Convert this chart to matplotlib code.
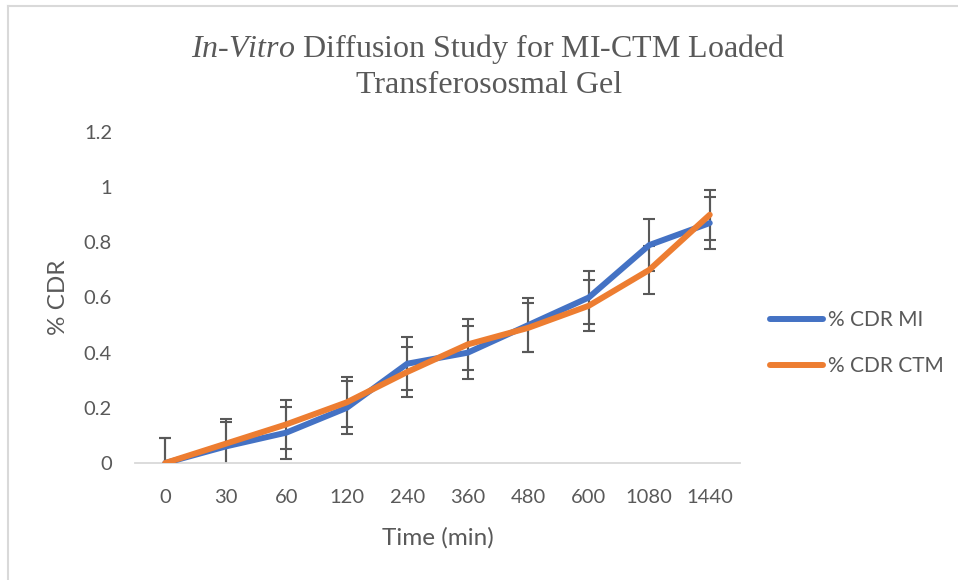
import matplotlib
matplotlib.use('Agg')
import matplotlib.pyplot as plt
import numpy as np

# data
time_labels = ['0', '30', '60', '120', '240', '360', '480', '600', '1080', '1440']
cdr_mi = [0.0, 0.06, 0.11, 0.20, 0.36, 0.40, 0.50, 0.60, 0.79, 0.87]
cdr_ctm = [0.0, 0.07, 0.14, 0.22, 0.33, 0.43, 0.49, 0.57, 0.70, 0.90]
err_mi = [0.09, 0.09, 0.094, 0.096, 0.095, 0.096, 0.097, 0.095, 0.094, 0.094]
err_ctm = [0.09, 0.09, 0.09, 0.09, 0.09, 0.092, 0.089, 0.092, 0.088, 0.091]

plt.rcParams['font.family'] = ['Lato', 'DejaVu Sans']
plt.rcParams['mathtext.fontset'] = 'custom'
plt.rcParams['mathtext.rm'] = 'Liberation Serif'
plt.rcParams['mathtext.it'] = 'Liberation Serif:italic'

grey = '#595959'
fig = plt.figure(figsize=(9.58, 5.8), dpi=100)
ax = fig.add_axes([135/958, 117/580, 605/958, 331/580])

x = np.arange(len(time_labels))

# error bars first so the lines sit on top
ax.errorbar(x, cdr_mi, yerr=err_mi, fmt='none', ecolor=grey, elinewidth=1.5,
            capsize=4.5, capthick=1.5, zorder=2)
ax.errorbar(x, cdr_ctm, yerr=err_ctm, fmt='none', ecolor=grey, elinewidth=1.5,
            capsize=4.5, capthick=1.5, zorder=2)
ax.plot(x, cdr_mi, color='#4472C4', lw=4.3, solid_capstyle='round', label='% CDR MI', zorder=3)
ax.plot(x, cdr_ctm, color='#ED7D31', lw=4.3, solid_capstyle='round', label='% CDR CTM', zorder=4)

ax.set_xlim(-0.5, len(time_labels) - 0.5)
ax.set_ylim(0, 1.2)
ax.set_xticks(x)
ax.set_xticklabels(time_labels)
ax.set_yticks([0, 0.2, 0.4, 0.6, 0.8, 1.0, 1.2])
ax.set_yticklabels(['0', '0.2', '0.4', '0.6', '0.8', '1', '1.2'])
ax.tick_params(axis='both', length=0, labelsize=14.5, colors=grey)
ax.tick_params(axis='x', pad=18.5)
ax.tick_params(axis='y', pad=16.5)

for s in ['top', 'right', 'left']:
    ax.spines[s].set_visible(False)
ax.spines['bottom'].set_color('#D9D9D9')
ax.spines['bottom'].set_linewidth(1.3)

ax.set_xlabel('Time (min)', fontsize=17.5, color=grey, labelpad=15.5)
ax.set_ylabel('% CDR', fontsize=17.5, color=grey, labelpad=11)

fig.text(0.51, 0.945, r'$\mathit{In}$-$\mathit{Vitro}$ Diffusion Study for MI-CTM Loaded' + '\nTransferososmal Gel',
         ha='center', va='top', fontsize=23, family='Liberation Serif', color=grey,
         linespacing=1.25)

leg = ax.legend(loc='center left', bbox_to_anchor=(770/958, 1 - 343/580),
                bbox_transform=fig.transFigure, frameon=False, borderpad=0, borderaxespad=0,
                fontsize=15, handlelength=2.55, handletextpad=0.25, labelspacing=1.25)
for t in leg.get_texts():
    t.set_color(grey)

# chart frame (top and left edges visible in the original)
fig.add_artist(plt.Line2D([8/958, 1], [1 - 5.5/580, 1 - 5.5/580], color='#D9D9D9', lw=1.5))
fig.add_artist(plt.Line2D([8/958, 8/958], [0, 1 - 5.5/580], color='#D9D9D9', lw=1.5))

fig.savefig('out.png', dpi=100)
